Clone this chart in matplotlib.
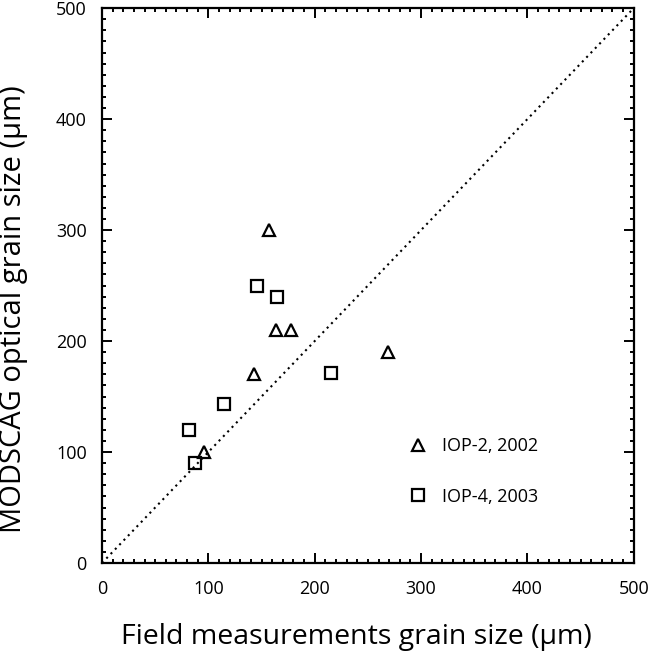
import matplotlib.pyplot as plt
import numpy as np

# dados
iop2_campo = [157, 164, 178, 269, 143, 96]
iop2_modscag = [300, 210, 210, 190, 170, 100]
iop4_campo = [146, 165, 215, 115, 82, 87]
iop4_modscag = [250, 240, 171, 143, 120, 90]
linha_1para1 = [0, 500]

plt.rcParams['font.family'] = ['Open Sans', 'DejaVu Sans']

fig = plt.figure(figsize=(6.54, 6.52), dpi=100)
ax = fig.add_axes([0.156, 0.1365, 0.813, 0.851])

# linha 1:1
ax.plot(linha_1para1, linha_1para1, color='black', linestyle=(0, (1, 2)), lw=1.5)

ax.plot(iop2_campo, iop2_modscag, linestyle='none', marker='^', markersize=8.5,
        markerfacecolor='none', markeredgecolor='black', markeredgewidth=1.6,
        label='IOP-2, 2002')
ax.plot(iop4_campo, iop4_modscag, linestyle='none', marker='s', markersize=8.5,
        markerfacecolor='none', markeredgecolor='black', markeredgewidth=1.6,
        label='IOP-4, 2003')

ax.set_xlim(0, 500)
ax.set_ylim(0, 500)
ax.set_xticks(np.arange(0, 501, 100))
ax.set_yticks(np.arange(0, 501, 100))
ax.set_xticks(np.arange(0, 501, 10), minor=True)
ax.set_yticks(np.arange(0, 501, 10), minor=True)
ax.tick_params(which='both', direction='in', top=True, right=True, width=1.4,
               labelsize=13)
ax.tick_params(which='major', length=7)
ax.tick_params(which='minor', length=3)
ax.tick_params(axis='x', pad=12)
ax.tick_params(axis='y', pad=11)
for s in ax.spines.values():
    s.set_linewidth(1.6)

ax.set_xlabel('Field measurements grain size (\u03bcm)', fontsize=20.5, labelpad=18)
ax.set_ylabel('MODSCAG optical grain size (\u03bcm)', fontsize=21, labelpad=20)
ax.xaxis.label.set_x(0.478)
ax.yaxis.label.set_y(0.458)

ax.legend(loc='lower left', bbox_to_anchor=(0.547, 0.074), frameon=False,
          fontsize=13, labelspacing=1.8, handletextpad=0.8, handlelength=1.0)

plt.savefig('out.png', dpi=100)
